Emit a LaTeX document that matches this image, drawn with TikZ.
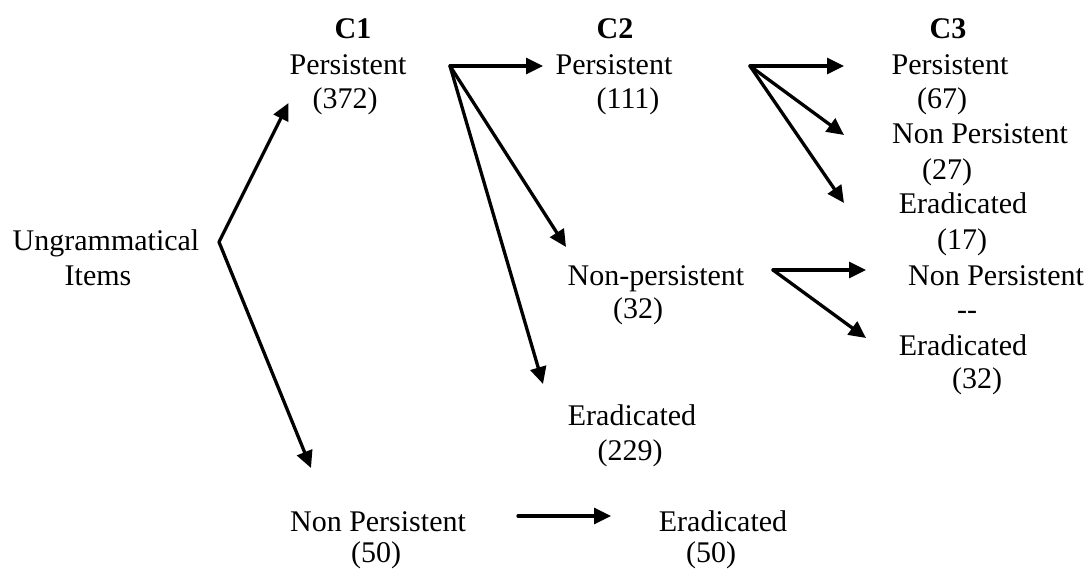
\documentclass[tikz,border=0pt]{standalone}
\usepackage{fontspec}
\setmainfont{Liberation Serif}
\usetikzlibrary{arrows.meta}
\begin{document}
\begin{tikzpicture}[x=1pt,y=-1pt,
  lbl/.style={anchor=base,inner sep=0pt,font=\fontsize{30}{34}\selectfont},
  hdr/.style={anchor=base,inner sep=0pt,font=\fontsize{30}{34}\selectfont\bfseries},
  arr/.style={line width=3.3pt,line cap=round,-{Triangle[length=17pt,width=16pt]}}]
\useasboundingbox[fill=white] (0,0) rectangle (1090,570);
% column C1
\node[hdr] (c1h) at (353,38) {C1};
\node[lbl] (c1p) at (348,74) {Persistent};
\node[lbl] (c1n) at (345,108) {(372)};
% root
\node[lbl] (ug1) at (106,250) {Ungrammatical};
\node[lbl] (ug2) at (98,285) {Items};
% column C2
\node[hdr] (c2h) at (615,38) {C2};
\node[lbl] (c2p) at (614,74) {Persistent};
\node[lbl] (c2n) at (628,108) {(111)};
\node[lbl] (np) at (656,285) {Non-persistent};
\node[lbl] (npn) at (638,318) {(32)};
\node[lbl] (e229) at (632,425) {Eradicated};
\node[lbl] (e229n) at (630,460) {(229)};
% column C3
\node[hdr] (c3h) at (948,38) {C3};
\node[lbl] (c3p) at (950,74) {Persistent};
\node[lbl] (c3pn) at (942,108) {(67)};
\node[lbl] (c3np) at (980,143) {Non Persistent};
\node[lbl] (c3npn) at (947,179) {(27)};
\node[lbl] (c3e) at (963,213) {Eradicated};
\node[lbl] (c3en) at (962,249) {(17)};
\node[lbl] (np2) at (996,285) {Non Persistent};
\node[lbl] (dsh) at (967,319) {-{}-};
\node[lbl] (e2) at (963,355) {Eradicated};
\node[lbl] (e2n) at (977,388) {(32)};
% bottom row
\node[lbl] (bnp) at (378,531) {Non Persistent};
\node[lbl] (bnpn) at (376,562) {(50)};
\node[lbl] (be) at (723,531) {Eradicated};
\node[lbl] (ben) at (711,562) {(50)};
% connector points
\coordinate (ugv) at (219,242);
\coordinate (c1t) at (288.5,103);
\coordinate (bnpt) at (311,468);
\coordinate (f1) at (450,66);
\coordinate (f1a) at (543,66);
\coordinate (f1b) at (566,247);
\coordinate (f1c) at (543,384);
\coordinate (f2) at (750,66);
\coordinate (f2a) at (844,66);
\coordinate (f2b) at (844,135);
\coordinate (f2c) at (844,203);
\coordinate (f3) at (773,270);
\coordinate (f3a) at (866,270);
\coordinate (f3b) at (866,338);
\coordinate (b1) at (518,516);
\coordinate (b2) at (611,516);
% connectors
\draw[arr] (ugv) -- (c1t);
\draw[arr] (ugv) -- (bnpt);
\draw[arr] (f1) -- (f1a);
\draw[arr] (f1) -- (f1b);
\draw[arr] (f1) -- (f1c);
\draw[arr] (f2) -- (f2a);
\draw[arr] (f2) -- (f2b);
\draw[arr] (f2) -- (f2c);
\draw[arr] (f3) -- (f3a);
\draw[arr] (f3) -- (f3b);
\draw[arr] (b1) -- (b2);
\end{tikzpicture}
\end{document}
